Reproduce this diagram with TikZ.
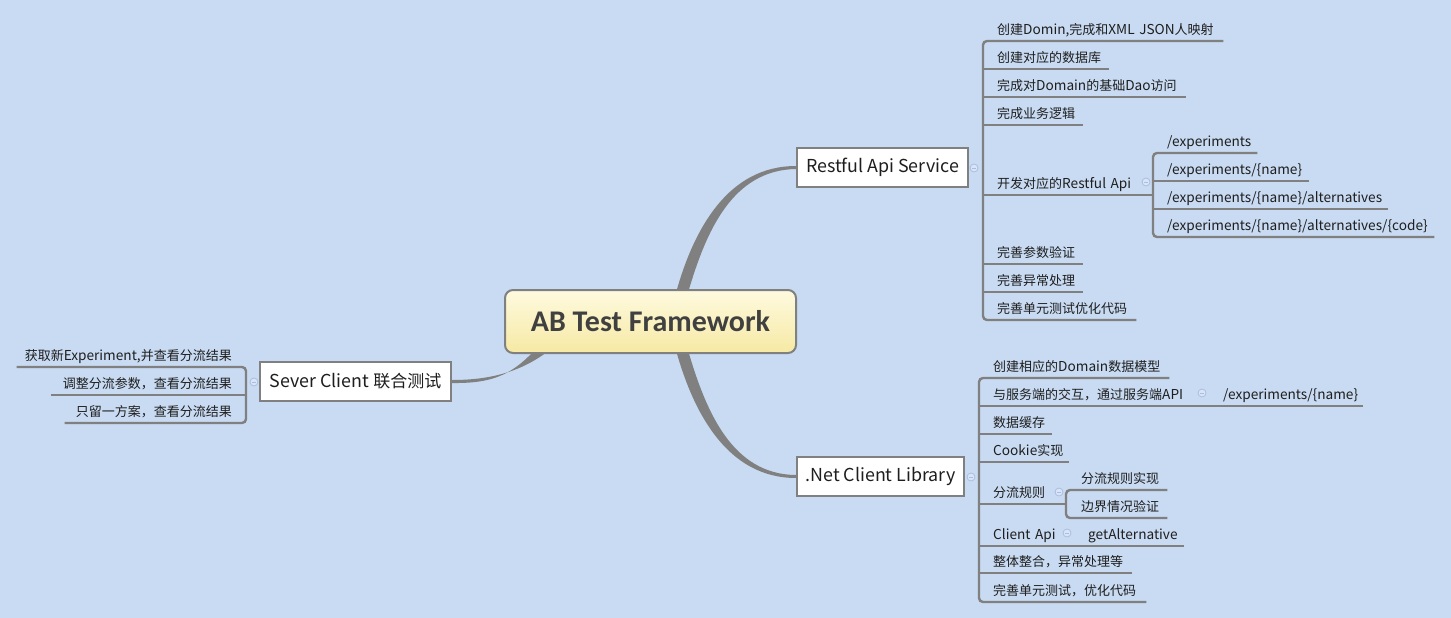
\documentclass[tikz,border=0pt]{standalone}
\usepackage{fontspec}
\setmainfont{Noto Sans CJK SC}
\newfontfamily\cjkf{Noto Sans CJK SC}
\newfontfamily\latf[Scale=1.05]{Noto Sans CJK SC}
\newfontfamily\carlito{Carlito}
\XeTeXinterchartokenstate=1
\newXeTeXintercharclass\cjkcls
\count255="3000
\loop\ifnum\count255<"A000 \XeTeXcharclass\count255=\cjkcls \advance\count255 by 1 \repeat
\XeTeXcharclass"FF0C=\cjkcls
\XeTeXinterchartoks 0 \cjkcls = {\cjkf}
\XeTeXinterchartoks 4095 \cjkcls = {\cjkf}
\XeTeXinterchartoks \cjkcls 0 = {\latf}
\usetikzlibrary{calc}
\definecolor{bgc}{HTML}{C9DBF2}
\definecolor{ln}{HTML}{808080}
\definecolor{txt}{HTML}{1E1E1E}
\definecolor{ctext}{HTML}{404040}
\definecolor{ctop}{HTML}{FEFADF}
\definecolor{cbot}{HTML}{F6E9A4}
\definecolor{cmark}{HTML}{A9BDE0}
\definecolor{cfill}{HTML}{D9E5F6}
\pgfdeclarelayer{bglayer}
\pgfdeclarelayer{brlayer}
\pgfsetlayers{bglayer,brlayer,main}
\tikzset{
  topicbox/.style={draw=ln, line width=2pt, fill=white, minimum height=39pt, inner sep=0pt,
    font=\latf\fontsize{17}{20}\selectfont, text=txt},
  item/.style={anchor=south west, inner xsep=0pt, inner ysep=3pt, text height=11pt, text depth=3.5pt,
    align=left, font=\latf\fontsize{13}{15}\selectfont, text=txt},
  ritem/.style={item, anchor=south east, align=right},
  sub/.style={draw=ln, line width=2.4pt, rounded corners=4pt},
  branch/.style={fill=ln},
  fold/.style={circle, draw=cmark, fill=cfill, line width=0.8pt, minimum size=8pt, inner sep=0pt,
    path picture={\draw[cmark, line width=0.8pt]
      ($(path picture bounding box.west)+(2pt,0)$) -- ($(path picture bounding box.east)+(-2pt,0)$);}},
}
\begin{document}
\begin{tikzpicture}[x=1pt, y=-1pt]
\begin{pgfonlayer}{bglayer}
  \fill[bgc] (0,0) rectangle (1451,618);
\end{pgfonlayer}
\useasboundingbox (0,0) rectangle (1451,618);

% central topic
\node[draw=ln, line width=2pt, rounded corners=8pt, top color=ctop, bottom color=cbot,
  minimum width=291pt, minimum height=63pt, inner sep=0pt,
  font=\carlito\bfseries\fontsize{30}{34}\selectfont, text=ctext] (ab) at (650.5,321.5) {AB Test Framework};

% main topics
\node[topicbox, minimum width=171pt] (rest) at (882.5,167.5) {Restful Api Service};
\node[topicbox, minimum width=167pt] (net) at (880.5,476.5) {.Net Client Library};
\node[topicbox, minimum width=191pt] (sever) at (355.5,381.5) {Sever Client 联合测试};

% fold marks
\node[fold] (f1) at (974,168) {};
\node[fold] (f2) at (1146,182) {};
\node[fold] (f3) at (971,477) {};
\node[fold] (f4) at (1202,393) {};
\node[fold] (f5) at (1059,492) {};
\node[fold] (f6) at (1067,533) {};
\node[fold] (f7) at (254,382) {};

% Restful items
\coordinate (rb) at (983,0);
\node[item, text width=226pt] (r1) at (997,41) {创建Domin,完成和XML JSON人映射};
\node[item, text width=112pt] (r2) at (997,69) {创建对应的数据库};
\node[item, text width=189pt] (r3) at (997,97) {完成对Domain的基础Dao访问};
\node[item, text width=86pt] (r4) at (997,125) {完成业务逻辑};
\node[item, text width=156pt] (r5) at (997,195) {开发对应的Restful Api};
\node[item, text width=86pt] (r6) at (997,264) {完善参数验证};
\node[item, text width=86pt] (r7) at (997,292) {完善异常处理};
\node[item, text width=139pt] (r8) at (997,320) {完善单元测试优化代码};

\coordinate (eb) at (1153,0);
\node[item, text width=90pt] (e1) at (1167,153) {/experiments};
\node[item, text width=142pt] (e2) at (1167,181) {/experiments/\{name\}};
\node[item, text width=221pt] (e3) at (1167,209) {/experiments/\{name\}/alternatives};
\node[item, text width=267pt] (e4) at (1167,237) {/experiments/\{name\}/alternatives/\{code\}};

\draw[sub] (r1.south east) -- (r1.south west -| rb) -- (r8.south west -| rb) -- (r8.south east);
\foreach \n in {r2,r3,r4,r5,r6,r7} \draw[sub] (\n.south west -| rb) -- (\n.south east);
\draw[sub] (e1.south east) -- (e1.south west -| eb) -- (e4.south west -| eb) -- (e4.south east);
\foreach \n in {e2,e3} \draw[sub] (\n.south west -| eb) -- (\n.south east);

% .Net items
\coordinate (nb) at (979,0);
\node[item, text width=176pt] (n1) at (993,378) {创建相应的Domain数据模型};
\node[item, text width=196pt] (n2) at (993,406) {与服务端的交互，通过服务端API};
\node[item, text width=140pt] (n2a) at (1223,406) {/experiments/\{name\}};
\node[item, text width=59pt] (n3) at (993,434) {数据缓存};
\node[item, text width=76pt] (n4) at (993,462) {Cookie实现};
\node[item, text width=73pt] (n5) at (993,504) {分流规则};
\node[item, text width=86pt] (n5a) at (1081,490) {分流规则实现};
\node[item, text width=86pt] (n5b) at (1081,518) {边界情况验证};
\node[item, text width=67pt] (n6) at (993,546) {Client Api};
\node[item, text width=96pt] (n6a) at (1088,546) {getAlternative};
\node[item, text width=139pt] (n7) at (993,573) {整体整合，异常处理等};
\node[item, text width=153pt] (n8) at (993,602) {完善单元测试，优化代码};

\coordinate (sb) at (1066,0);
\draw[sub] (n1.south east) -- (n1.south west -| nb) -- (n8.south west -| nb) -- (n8.south east);
\foreach \n in {n3,n4,n5,n7} \draw[sub] (\n.south west -| nb) -- (\n.south east);
\draw[sub] (n2.south west -| nb) -- (n2a.south east);
\draw[sub] (n6.south west -| nb) -- (n6a.south east);
\draw[sub] (n5a.south east) -- (n5a.south west -| sb) -- (n5b.south west -| sb) -- (n5b.south east);

% Sever items
\coordinate (lb) at (246,0);
\node[ritem, text width=215pt] (l1) at (232,367) {获取新Experiment,并查看分流结果};
\node[ritem, text width=181pt] (l2) at (232,395) {调整分流参数，查看分流结果};
\node[ritem, text width=167pt] (l3) at (232,423) {只留一方案，查看分流结果};
\draw[sub] (l1.south west) -- (l1.south east -| lb) -- (l3.south east -| lb) -- (l3.south west);
\draw[sub] (l2.south east -| lb) -- (l2.south west);

% main branches
\begin{pgfonlayer}{brlayer}
\fill[branch] ($(ab.north)+(26,2)$) .. controls (694,229) and (728,166) .. ($(rest.west)+(0,-1.5)$)
  -- ($(rest.west)+(0,1.5)$) .. controls (732,170) and (706,232) .. ($(ab.north)+(38,2)$) -- cycle;
\fill[branch] ($(ab.south)+(26,-2)$) .. controls (694,414) and (728,478) .. ($(net.west)+(0,1.5)$)
  -- ($(net.west)+(0,-1.5)$) .. controls (732,474.5) and (706,411) .. ($(ab.south)+(38,-2)$) -- cycle;
\fill[branch] ($(ab.south)+(-103.5,-2)$) .. controls (520,372) and (490,380) .. ($(sever.east)+(0,-1.5)$)
  -- ($(sever.east)+(0,1.5)$) .. controls (490,383.5) and (510,376) .. ($(ab.south)+(-117.5,-2)$) -- cycle;
\end{pgfonlayer}
\end{tikzpicture}
\end{document}
